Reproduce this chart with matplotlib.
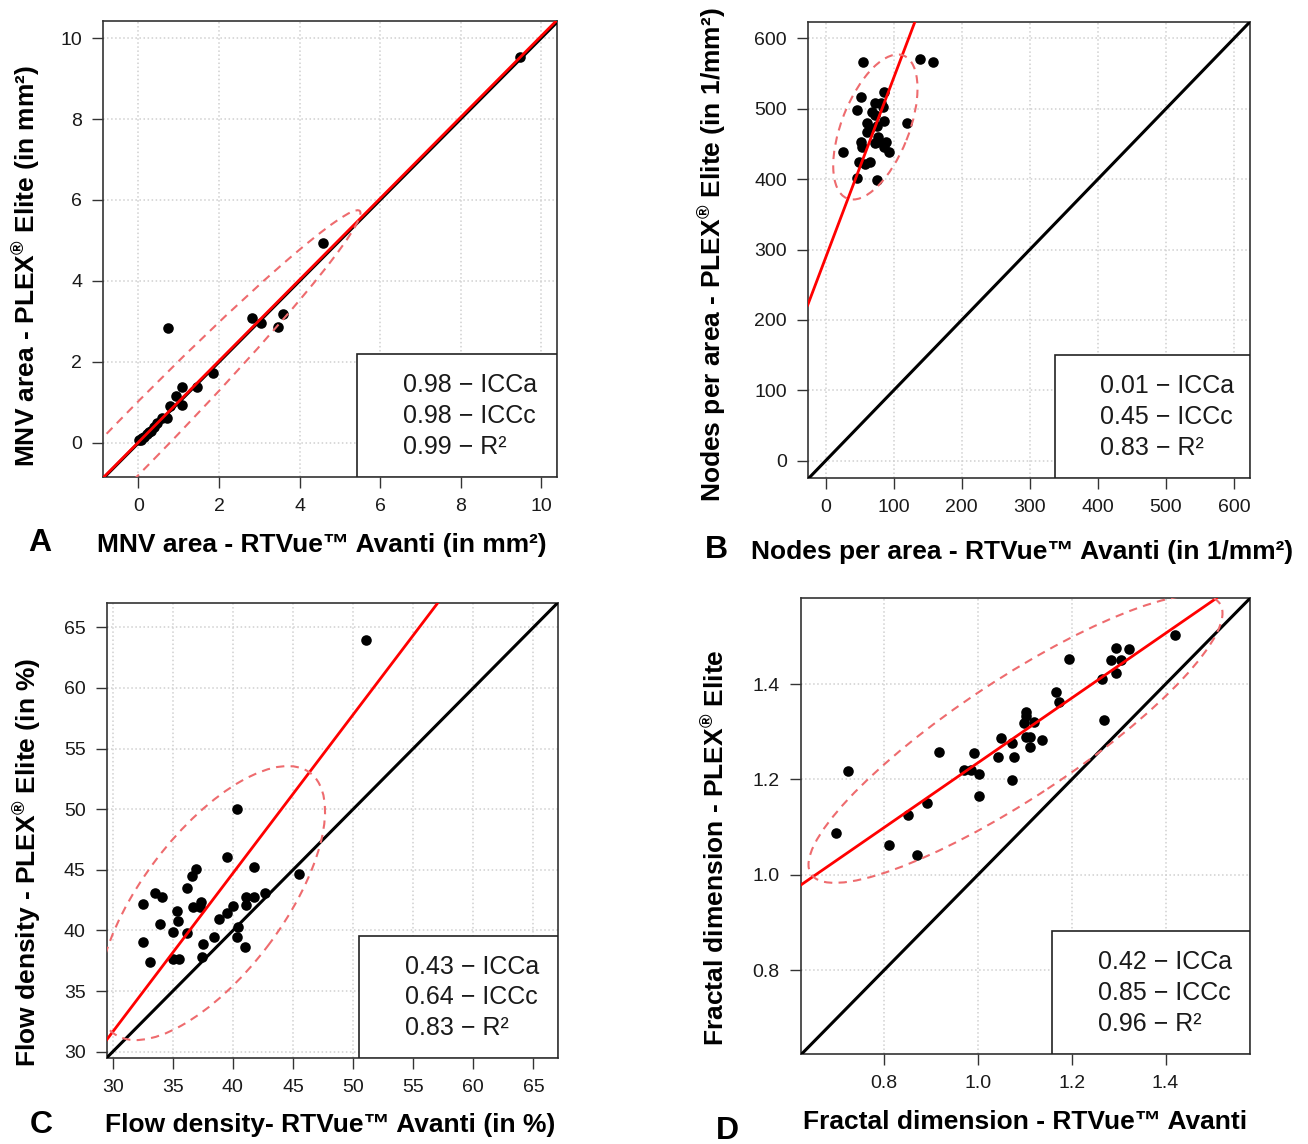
import numpy as np
import matplotlib.pyplot as plt
from matplotlib.patches import Ellipse, Rectangle

plt.rcParams["font.family"] = ["Liberation Sans", "DejaVu Sans"]
plt.rcParams["mathtext.default"] = "regular"

W, H = 1308, 1144

# --- Panel A: MNV area (mm²) ---
a_x = [9.47, 4.57, 0.74, 2.81, 3.04, 3.60, 3.46, 1.84, 1.46, 1.09, 0.94, 1.09,
       0.79, 0.72, 0.58, 0.46, 0.38, 0.26, 0.14, 0.06, 0.02, 0.20, 0.32, 0.10]
a_y = [9.52, 4.95, 2.83, 3.08, 2.97, 3.18, 2.86, 1.74, 1.39, 1.38, 1.16, 0.94,
       0.91, 0.61, 0.61, 0.49, 0.40, 0.28, 0.16, 0.08, 0.07, 0.22, 0.30, 0.12]

# --- Panel B: nodes per area (1/mm²) ---
b_x = [55, 138, 157, 52, 86, 46, 73, 82, 84, 68, 72, 61, 86, 120, 75, 65, 60,
       77, 75, 88, 52, 54, 72, 85, 93, 25, 49, 65, 58, 46, 75]
b_y = [566, 571, 566, 517, 524, 498, 508, 508, 503, 496, 491, 480, 483, 480,
       475, 472, 467, 460, 453, 453, 453, 446, 451, 446, 439, 438, 424, 425,
       422, 401, 399]

# --- Panel C: flow density (%) ---
c_x = [51.07, 40.32, 39.51, 41.78, 45.5, 36.9, 36.58, 36.16, 33.52, 34.07,
       32.55, 37.35, 36.7, 37.26, 41.09, 41.75, 42.67, 41.09, 40.03, 39.48,
       38.82, 35.32, 35.46, 33.96, 34.99, 36.16, 40.45, 40.37, 38.4, 37.54,
       41.0, 32.49, 33.1, 35.04, 35.54, 37.46]
c_y = [63.95, 50.01, 46.03, 45.26, 44.68, 45.04, 44.51, 43.52, 43.11, 42.78,
       42.15, 42.37, 41.96, 41.96, 42.78, 42.78, 43.11, 42.1, 42.05, 41.46,
       40.94, 41.6, 40.8, 40.5, 39.85, 39.76, 40.31, 39.43, 39.49, 38.88,
       38.66, 39.07, 37.37, 37.64, 37.64, 37.83]

# --- Panel D: fractal dimension ---
d_x = [1.42, 1.294, 1.322, 1.283, 1.306, 1.294, 1.194, 1.264, 1.166, 1.172,
       1.269, 1.102, 1.103, 1.099, 1.119, 1.103, 1.111, 1.136, 1.111, 1.05,
       1.073, 1.043, 1.077, 1.073, 0.992, 0.971, 0.985, 1.002, 1.003, 0.917,
       0.892, 0.85, 0.723, 0.698, 0.811, 0.869]
d_y = [1.503, 1.476, 1.474, 1.451, 1.451, 1.424, 1.452, 1.41, 1.383, 1.363,
       1.325, 1.342, 1.333, 1.318, 1.32, 1.29, 1.289, 1.283, 1.269, 1.287,
       1.276, 1.247, 1.248, 1.199, 1.255, 1.22, 1.22, 1.211, 1.165, 1.258,
       1.15, 1.126, 1.218, 1.087, 1.062, 1.041]

# regression line (intercept, slope) per panel
fits = [(0.02, 1.003), (288.5, 2.555), (-7.6, 1.308), (0.556, 0.679)]
# ellipse (centre x, centre y, semi-major, semi-minor, angle deg)
ellipses = [(-0.07, 0.05, 7.95, 0.64, 45.6),
            (73, 474, 109.6, 49.3, 67.5),
            (38.24, 42.26, 13.5, 5.85, 52.6),
            (1.08, 1.285, 0.52, 0.125, 33.0)]
stats = [("0.98", "0.98", "0.99"), ("0.01", "0.45", "0.83"),
         ("0.43", "0.64", "0.83"), ("0.42", "0.85", "0.96")]

ticks_a = [0, 2, 4, 6, 8, 10]
ticks_b = [0, 100, 200, 300, 400, 500, 600]
ticks_c = [30, 35, 40, 45, 50, 55, 60, 65]
ticks_d = [0.8, 1.0, 1.2, 1.4]
tick_labels_d = ["0.8", "1.0", "1.2", "1.4"]

xlabels = ["MNV area - RTVue™ Avanti (in mm²)",
           "Nodes per area - RTVue™ Avanti (in 1/mm²)",
           "Flow density- RTVue™ Avanti (in %)",
           "Fractal dimension - RTVue™ Avanti"]
ylabels = ["MNV area - PLEX$^{®}$ Elite (in mm²)",
           "Nodes per area - PLEX$^{®}$ Elite (in 1/mm²)",
           "Flow density - PLEX$^{®}$ Elite (in %)",
           "Fractal dimension - PLEX$^{®}$ Elite"]
letters = ["A", "B", "C", "D"]

# layout (pixel boxes: left, top, right, bottom)
boxes = [(103, 21, 557, 477), (807.7, 21.7, 1250, 478.3),
         (106.7, 603.3, 558.3, 1058.3), (800.7, 598.3, 1250, 1054)]
limits = [((-0.88, 10.39), (-0.84, 10.42)), ((-26.4, 623.4), (-25, 623.6)),
          ((29.5, 67.07), (29.46, 66.98)), ((0.622, 1.58), (0.624, 1.58))]
xlabel_pos = [(322, 545), (1022, 552), (330, 1125), (1025, 1122)]
ylabel_pos = [(27, 266), (713, 255), (28, 862), (716, 848)]
letter_pos = [(40, 543), (716, 550), (41, 1125), (727, 1131)]

fig = plt.figure(figsize=(W / 100, H / 100), dpi=100)


def fpos(x, y):
    return x / W, 1 - y / H


def draw_panel(i, xs, ys, xt, yt, xtl=None, ytl=None):
    l, t, r, b = boxes[i]
    ax = fig.add_axes([l / W, 1 - b / H, (r - l) / W, (b - t) / H])
    ax.set_xlim(*limits[i][0])
    ax.set_ylim(*limits[i][1])
    ax.set_xticks(xt)
    ax.set_yticks(yt)
    if xtl:
        ax.set_xticklabels(xtl)
    if ytl:
        ax.set_yticklabels(ytl)
    ax.grid(True, color="#d0d0d0", linestyle=":", linewidth=1.1)
    ax.set_axisbelow(True)
    ax.tick_params(direction="out", length=8, width=1, color="#333333",
                   labelsize=14, labelcolor="#1a1a1a", pad=7)
    for sp in ax.spines.values():
        sp.set_color("#333333")
        sp.set_linewidth(1.2)

    ax.scatter(xs, ys, s=58, color="black", zorder=3, linewidths=0)
    ax.axline((0, 0), slope=1, color="black", lw=2.2, zorder=4)
    ic, sl = fits[i]
    ax.axline((0, ic), slope=sl, color="#ff0000", lw=2.0, zorder=4)
    cx, cy, sa, sb, ang = ellipses[i]
    ax.add_patch(Ellipse((cx, cy), 2 * sa, 2 * sb, angle=ang, fill=False,
                         edgecolor="#ee6b6e", lw=1.5, linestyle=(0, (4, 3)),
                         zorder=5))

    # legend box in bottom-right corner
    ax.add_patch(Rectangle((0.559, 0), 0.441, 0.269, transform=ax.transAxes,
                           facecolor="white", edgecolor="#222222", lw=1.2,
                           zorder=6))
    names = ["ICCa", "ICCc", "R²"]
    for k, yy in enumerate([0.2012, 0.1337, 0.0668]):
        ax.text(0.661, yy, f"{stats[i][k]} − {names[k]}", transform=ax.transAxes,
                fontsize=18, va="center", ha="left", color="#1a1a1a", zorder=7)

    fig.text(*fpos(*xlabel_pos[i]), xlabels[i], fontsize=19,
             fontweight="bold", ha="center", va="center")
    fig.text(*fpos(*ylabel_pos[i]), ylabels[i], fontsize=19,
             fontweight="bold", ha="center", va="center", rotation=90)
    fig.text(*fpos(*letter_pos[i]), letters[i], fontsize=23,
             fontweight="bold", ha="center", va="center")
    return ax


draw_panel(0, a_x, a_y, ticks_a, ticks_a)
draw_panel(1, b_x, b_y, ticks_b, ticks_b)
draw_panel(2, c_x, c_y, ticks_c, ticks_c)
draw_panel(3, d_x, d_y, ticks_d, ticks_d, tick_labels_d, tick_labels_d)

fig.savefig("out.png", dpi=100)
